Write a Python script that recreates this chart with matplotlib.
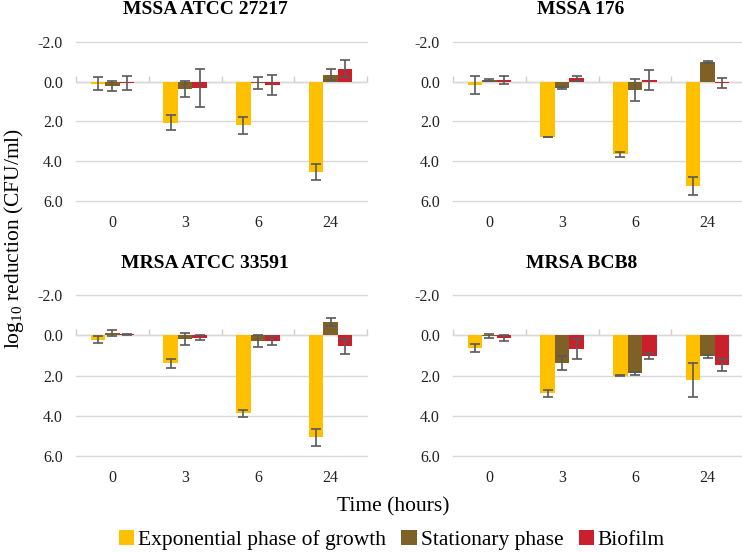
import matplotlib
matplotlib.use("Agg")
import matplotlib.pyplot as plt
import numpy as np

plt.rcParams['font.family'] = ['Liberation Serif', 'DejaVu Serif']
plt.rcParams['mathtext.fontset'] = 'custom'
plt.rcParams['mathtext.rm'] = 'Liberation Serif'
plt.rcParams['axes.unicode_minus'] = False

times = ["0", "3", "6", "24"]
series = ["Exponential phase of growth", "Stationary phase", "Biofilm"]
colors = ["#FFC000", "#7F6027", "#C9202C"]

titles = ["MSSA ATCC 27217", "MSSA 176", "MRSA ATCC 33591", "MRSA BCB8"]

# log10 reduction values (positive = reduction, plotted downward)
mssa27217_exp = [0.10, 2.07, 2.20, 4.56]
mssa27217_sta = [0.20, 0.38, 0.07, -0.35]
mssa27217_bio = [0.08, 0.30, 0.15, -0.65]
mssa27217_exp_err = [0.32, 0.38, 0.42, 0.40]
mssa27217_sta_err = [0.25, 0.41, 0.30, 0.27]
mssa27217_bio_err = [0.36, 0.95, 0.50, 0.42]

mssa176_exp = [0.15, 2.78, 3.64, 5.25]
mssa176_sta = [-0.08, 0.33, 0.40, -0.99]
mssa176_bio = [-0.10, -0.17, -0.08, 0.08]
mssa176_exp_err = [0.46, 0.02, 0.13, 0.46]
mssa176_sta_err = [0.04, 0.05, 0.55, 0.05]
mssa176_bio_err = [0.21, 0.13, 0.50, 0.25]

mrsa33591_exp = [0.22, 1.40, 3.87, 5.07]
mrsa33591_sta = [-0.10, 0.20, 0.30, -0.65]
mrsa33591_bio = [-0.05, 0.13, 0.28, 0.55]
mrsa33591_exp_err = [0.17, 0.22, 0.17, 0.42]
mrsa33591_sta_err = [0.16, 0.30, 0.30, 0.20]
mrsa33591_bio_err = [0.03, 0.13, 0.22, 0.38]

mrsabcb8_exp = [0.61, 2.89, 2.00, 2.22]
mrsabcb8_sta = [0.05, 1.38, 1.89, 1.05]
mrsabcb8_bio = [0.13, 0.70, 1.05, 1.48]
mrsabcb8_exp_err = [0.20, 0.17, 0.04, 0.83]
mrsabcb8_sta_err = [0.10, 0.33, 0.08, 0.06]
mrsabcb8_bio_err = [0.15, 0.50, 0.15, 0.30]

panels = [
    ([mssa27217_exp, mssa27217_sta, mssa27217_bio],
     [mssa27217_exp_err, mssa27217_sta_err, mssa27217_bio_err]),
    ([mssa176_exp, mssa176_sta, mssa176_bio],
     [mssa176_exp_err, mssa176_sta_err, mssa176_bio_err]),
    ([mrsa33591_exp, mrsa33591_sta, mrsa33591_bio],
     [mrsa33591_exp_err, mrsa33591_sta_err, mrsa33591_bio_err]),
    ([mrsabcb8_exp, mrsabcb8_sta, mrsabcb8_bio],
     [mrsabcb8_exp_err, mrsabcb8_sta_err, mrsabcb8_bio_err]),
]

W, H = 742, 552
fig = plt.figure(figsize=(W / 100, H / 100), dpi=100)

def frac_rect(x0, x1, ytop, ybot):
    return [x0 / W, 1 - ybot / H, (x1 - x0) / W, (ybot - ytop) / H]

rects = [
    frac_rect(76, 367, 42, 201),
    frac_rect(453, 744, 42, 201),
    frac_rect(76, 367, 295, 456),
    frac_rect(453, 744, 295, 456),
]
title_pos = [(205, 10), (581, 10), (205, 264), (582, 264)]

grid_c = "#D9D9D9"
err_c = "#595959"
bw = 0.2
x = np.arange(len(times))
handles = None

for i, (rect, (vals, errs)) in enumerate(zip(rects, panels)):
    ax = fig.add_axes(rect)
    ax.set_xlim(-0.5, len(times) - 0.5)
    ax.set_ylim(6, -2)
    ax.set_yticks([-2, 0, 2, 4, 6])
    ax.set_yticklabels(["%.1f" % v for v in [-2, 0, 2, 4, 6]])
    ax.yaxis.grid(True, color=grid_c, linewidth=1.0, clip_on=False)
    ax.set_axisbelow(True)
    for s in ax.spines.values():
        s.set_visible(False)
    ax.set_xticks(x)
    ax.set_xticklabels(times)
    ax.tick_params(axis='both', length=0, labelsize=11.5, colors="#222222")
    ax.tick_params(axis='y', pad=9.5)
    ax.tick_params(axis='x', pad=10)
    # category axis at zero with tick marks between categories
    ax.axhline(0, color="#CFCFCF", linewidth=1.0, zorder=0.5)
    bounds = np.arange(len(times) + 1) - 0.5
    ax.vlines(bounds, -0.3, 0, color="#CFCFCF", linewidth=1.0, zorder=0.5, clip_on=False)
    hs = []
    for j in range(3):
        pos = x + (j - 1) * bw
        b = ax.bar(pos, vals[j], width=bw, color=colors[j], zorder=2, label=series[j])
        ax.errorbar(pos, vals[j], yerr=errs[j], fmt='none', ecolor=err_c,
                    elinewidth=1.2, capsize=3.5, capthick=1.2, zorder=3)
        hs.append(b)
    if handles is None:
        handles = hs
    tx, ty = title_pos[i]
    fig.text(tx / W, 1 - ty / H, titles[i], ha='center', va='center',
             fontsize=14, fontweight='bold')

fig.text(14 / W, 1 - 238 / H, r"log$_{\mathrm{10}}$ reduction (CFU/ml)", rotation=90,
         ha='center', va='center', fontsize=15.5)
fig.text(393 / W, 1 - 507 / H, "Time (hours)", ha='center', va='center', fontsize=15.5)

fig.legend(handles, series, loc='center', bbox_to_anchor=(392 / W, 1 - 540 / H),
           ncol=3, frameon=False, fontsize=15.5, handlelength=0.7, handleheight=0.7,
           handletextpad=0.2, columnspacing=0.7, borderpad=0, borderaxespad=0)

fig.savefig("out.png", dpi=100)
